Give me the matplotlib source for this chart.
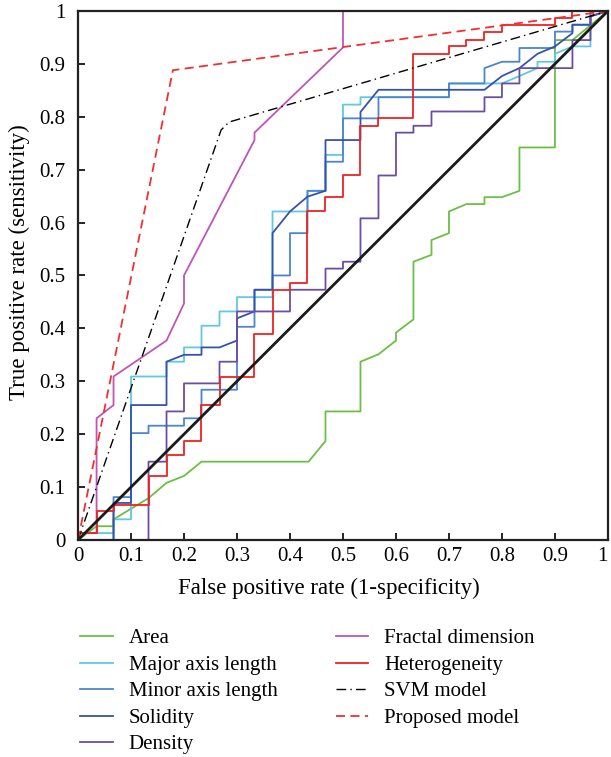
import matplotlib
matplotlib.use("Agg")
import matplotlib.pyplot as plt

plt.rcParams['font.family'] = ['Liberation Serif', 'DejaVu Serif']

# ROC curve points (FPR, TPR)
area_x = [0, 0.035, 0.067, 0.067, 0.133, 0.167, 0.2, 0.233, 0.435, 0.467, 0.467, 0.533, 0.533,
          0.567, 0.6, 0.6, 0.633, 0.633, 0.667, 0.667, 0.7, 0.7, 0.733, 0.767, 0.767, 0.8, 0.833,
          0.833, 0.9, 0.9, 0.933, 1]
area_y = [0, 0.026, 0.026, 0.039, 0.079, 0.108, 0.121, 0.148, 0.148, 0.187, 0.243, 0.243, 0.337,
          0.351, 0.377, 0.392, 0.417, 0.526, 0.539, 0.567, 0.58, 0.621, 0.635, 0.635, 0.648, 0.648,
          0.66, 0.742, 0.742, 0.945, 0.945, 1]

major_x = [0, 0, 0.067, 0.067, 0.1, 0.1, 0.167, 0.167, 0.2, 0.2, 0.233, 0.233, 0.267, 0.267, 0.3,
           0.3, 0.367, 0.367, 0.433, 0.433, 0.467, 0.467, 0.5, 0.5, 0.533, 0.533, 0.7, 0.7, 0.8,
           0.833, 0.867, 0.867, 0.9, 0.9, 0.933, 0.967, 0.967, 1]
major_y = [0, 0.013, 0.013, 0.039, 0.039, 0.309, 0.309, 0.337, 0.337, 0.364, 0.364, 0.405, 0.405,
           0.432, 0.432, 0.459, 0.459, 0.621, 0.621, 0.66, 0.66, 0.728, 0.728, 0.823, 0.823, 0.837,
           0.837, 0.863, 0.863, 0.877, 0.892, 0.904, 0.904, 0.919, 0.933, 0.933, 0.99, 1]

minor_x = [0, 0.067, 0.067, 0.1, 0.1, 0.133, 0.133, 0.2, 0.2, 0.233, 0.233, 0.3, 0.3, 0.333, 0.333,
           0.367, 0.367, 0.4, 0.4, 0.433, 0.433, 0.467, 0.467, 0.5, 0.5, 0.567, 0.567, 0.7, 0.7,
           0.767, 0.767, 0.8, 0.833, 0.833, 0.9, 0.9, 0.933, 0.933, 0.967, 0.967, 1]
minor_y = [0, 0, 0.081, 0.081, 0.202, 0.202, 0.216, 0.216, 0.23, 0.23, 0.284, 0.284, 0.403, 0.403,
           0.473, 0.473, 0.5, 0.5, 0.58, 0.58, 0.66, 0.66, 0.715, 0.715, 0.797, 0.797, 0.837, 0.837,
           0.863, 0.863, 0.892, 0.904, 0.904, 0.93, 0.93, 0.961, 0.961, 0.974, 0.974, 1, 1]

solidity_x = [0, 0.067, 0.067, 0.1, 0.1, 0.167, 0.167, 0.2, 0.233, 0.233, 0.267, 0.3, 0.3, 0.333,
              0.333, 0.367, 0.367, 0.4, 0.433, 0.467, 0.467, 0.533, 0.533, 0.567, 0.767, 0.8, 0.833,
              0.867, 0.9, 0.933, 0.933, 0.967, 0.967, 1]
solidity_y = [0, 0, 0.07, 0.07, 0.255, 0.255, 0.337, 0.35, 0.35, 0.364, 0.364, 0.377, 0.419, 0.432,
              0.473, 0.473, 0.58, 0.621, 0.649, 0.66, 0.756, 0.756, 0.809, 0.851, 0.851, 0.877, 0.892,
              0.919, 0.933, 0.958, 0.974, 0.974, 0.99, 1]

density_x = [0, 0.133, 0.133, 0.167, 0.167, 0.2, 0.2, 0.267, 0.267, 0.3, 0.3, 0.4, 0.4, 0.467, 0.467,
             0.5, 0.5, 0.533, 0.533, 0.567, 0.567, 0.6, 0.6, 0.633, 0.633, 0.667, 0.667, 0.767, 0.767,
             0.8, 0.8, 0.833, 0.833, 0.933, 0.933, 0.967, 0.967, 1]
density_y = [0, 0, 0.148, 0.148, 0.243, 0.243, 0.296, 0.296, 0.337, 0.337, 0.432, 0.432, 0.473, 0.473,
             0.513, 0.513, 0.526, 0.526, 0.608, 0.608, 0.689, 0.689, 0.77, 0.77, 0.783, 0.783, 0.81,
             0.81, 0.837, 0.837, 0.863, 0.863, 0.892, 0.892, 0.945, 0.945, 0.99, 1]

fractal_x = [0, 0, 0.035, 0.035, 0.067, 0.067, 0.167, 0.2, 0.2, 0.333, 0.333, 0.5, 0.5]
fractal_y = [0, 0.013, 0.013, 0.23, 0.255, 0.309, 0.377, 0.447, 0.5, 0.756, 0.77, 0.931, 1]

hetero_x = [0, 0, 0.035, 0.035, 0.067, 0.067, 0.133, 0.133, 0.167, 0.167, 0.2, 0.2, 0.233, 0.233,
            0.267, 0.267, 0.333, 0.333, 0.367, 0.367, 0.4, 0.4, 0.433, 0.433, 0.467, 0.467, 0.5, 0.5,
            0.533, 0.533, 0.567, 0.567, 0.633, 0.633, 0.7, 0.7, 0.733, 0.733, 0.767, 0.767, 0.8, 0.8,
            0.9, 0.9, 0.933, 0.933, 1]
hetero_y = [0, 0.013, 0.013, 0.054, 0.054, 0.066, 0.066, 0.12, 0.12, 0.161, 0.161, 0.188, 0.188,
            0.255, 0.255, 0.309, 0.309, 0.39, 0.39, 0.473, 0.473, 0.485, 0.485, 0.621, 0.621, 0.648,
            0.648, 0.689, 0.689, 0.783, 0.783, 0.797, 0.797, 0.919, 0.919, 0.933, 0.933, 0.945, 0.945,
            0.96, 0.96, 0.974, 0.974, 0.986, 0.986, 1, 1]

svm_x = [0, 0.27, 0.285, 1]
svm_y = [0, 0.775, 0.79, 1]

proposed_x = [0, 0.179, 1]
proposed_y = [0, 0.888, 1]

fig = plt.figure(figsize=(6.11, 7.57), dpi=100)
ax = fig.add_axes([0.1277, 0.2867, 0.8673, 0.6988])

lw = 1.3
ax.plot(area_x, area_y, color='#6cbf45', lw=lw, label='Area')
ax.plot(major_x, major_y, color='#62c8df', lw=lw, label='Major axis length')
ax.plot(minor_x, minor_y, color='#4a86cc', lw=lw, label='Minor axis length')
ax.plot(solidity_x, solidity_y, color='#3553ad', lw=lw, label='Solidity')
ax.plot(density_x, density_y, color='#6a4ea4', lw=lw, label='Density')
ax.plot(fractal_x, fractal_y, color='#c055b5', lw=lw, label='Fractal dimension')
ax.plot(hetero_x, hetero_y, color='#ee2222', lw=lw, label='Heterogeneity')
ax.plot(svm_x, svm_y, color='black', lw=1.0, ls=(0, (7, 3, 1, 3)), label='SVM model')
ax.plot(proposed_x, proposed_y, color='#f03030', lw=1.3, ls=(0, (5, 3)), label='Proposed model')
ax.plot([0, 1], [0, 1], color='#1a1a1a', lw=2.0)

ax.set_xlim(0, 1)
ax.set_ylim(0, 1)
ticks = [0, 0.1, 0.2, 0.3, 0.4, 0.5, 0.6, 0.7, 0.8, 0.9, 1]
ticklabels = ['0', '0.1', '0.2', '0.3', '0.4', '0.5', '0.6', '0.7', '0.8', '0.9', '1']
ax.set_xticks(ticks)
ax.set_xticklabels(ticklabels)
ax.set_yticks(ticks)
ax.set_yticklabels(ticklabels)
ax.tick_params(direction='in', length=5, width=1.2, labelsize=15)
ax.tick_params(axis='x', pad=5)
ax.tick_params(axis='y', pad=9)
# last x label sits at the figure edge, keep it inside
ax.get_xticklabels()[-1].set_horizontalalignment('right')
for s in ax.spines.values():
    s.set_linewidth(1.6)
    s.set_color('#222222')

ax.set_xlabel('False positive rate (1-specificity)', fontsize=16.5)
ax.set_ylabel('True positive rate (sensitivity)', fontsize=16.5)
ax.xaxis.set_label_coords(0.474, -0.071)
ax.yaxis.set_label_coords(-0.091, 0.526)

handles, labels = ax.get_legend_handles_labels()
fig.legend(handles, labels, ncol=2, loc='upper left', bbox_to_anchor=(0.1007, 0.194),
           frameon=False, fontsize=15, handlelength=1.55, handletextpad=0.77,
           columnspacing=2.8, labelspacing=0.33)

fig.savefig('out.png', dpi=100)
